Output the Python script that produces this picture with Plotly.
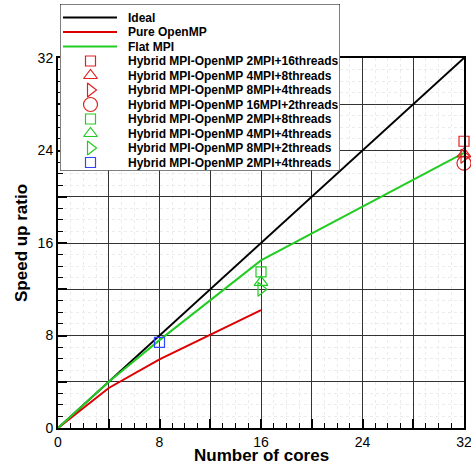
import plotly.graph_objects as go

# ---- data ----
ideal_x = [0, 32]
ideal_y = [0, 32]
omp_x = [0, 4, 8, 16]
omp_y = [0, 3.46, 5.94, 10.2]
mpi_x = [0, 4, 8, 16, 32]
mpi_y = [0, 4.0, 7.6, 14.5, 23.8]

hyb_names = [
    "Hybrid MPI-OpenMP 2MPI+16threads",
    "Hybrid MPI-OpenMP 4MPI+8threads",
    "Hybrid MPI-OpenMP 8MPI+4threads",
    "Hybrid MPI-OpenMP 16MPI+2threads",
    "Hybrid MPI-OpenMP 2MPI+8threads",
    "Hybrid MPI-OpenMP 4MPI+4threads",
    "Hybrid MPI-OpenMP 8MPI+2threads",
    "Hybrid MPI-OpenMP 2MPI+4threads",
]
hyb_x = [32, 32, 32, 32, 16, 16, 16, 8]
hyb_y = [24.8, 23.7, 23.5, 22.9, 13.5, 12.6, 12.0, 7.4]
hyb_symbols = ["square-open", "triangle-up-open", "triangle-right-open", "circle-open",
               "square-open", "triangle-up-open", "triangle-right-open", "square-open"]
hyb_sizes = [10, 12, 12, 14, 10, 12, 12, 10]
hyb_colors = ["#e02020", "#e02020", "#e02020", "#e02020",
              "#22cc22", "#22cc22", "#22cc22", "#3344ff"]

line_names = ["Ideal", "Pure OpenMP", "Flat MPI"]
line_colors = ["#000000", "#dd0000", "#22cc22"]

x_ticks = [0, 4, 8, 12, 16, 20, 24, 28, 32]
x_ticktext = ["0", "", "8", "", "16", "", "24", "", "32"]
y_ticks = [0, 4, 8, 12, 16, 20, 24, 28, 32]
y_ticktext = ["0", "", "8", "", "16", "", "24", "", "32"]

x_title = "Number of cores"
y_title = "Speed up ratio"

FONT = "Liberation Sans, Arial, sans-serif"

fig = go.Figure()

lines = [(ideal_x, ideal_y), (omp_x, omp_y), (mpi_x, mpi_y)]
for (xs, ys), nm, c in zip(lines, line_names, line_colors):
    fig.add_trace(go.Scatter(x=xs, y=ys, mode="lines", name=nm,
                             line=dict(color=c, width=2), showlegend=False))

for i in range(len(hyb_names)):
    fig.add_trace(go.Scatter(x=[hyb_x[i]], y=[hyb_y[i]], mode="markers", name=hyb_names[i],
                             marker=dict(symbol=hyb_symbols[i], size=hyb_sizes[i],
                                         color=hyb_colors[i], line=dict(width=1.2, color=hyb_colors[i])),
                             cliponaxis=False, showlegend=False))

# ---- custom legend on an overlay axis (pixel-like units) ----
all_names = line_names + hyb_names
row0, step = 13.5, 14.5
for i, nm in enumerate(all_names):
    yy = row0 + i * step
    if i < 3:
        fig.add_trace(go.Scatter(x=[3, 57], y=[yy, yy], mode="lines", xaxis="x2", yaxis="y2",
                                 line=dict(color=line_colors[i], width=2), showlegend=False,
                                 hoverinfo="skip"))
    else:
        j = i - 3
        fig.add_trace(go.Scatter(x=[30.5], y=[yy], mode="markers", xaxis="x2", yaxis="y2",
                                 marker=dict(symbol=hyb_symbols[j], size=hyb_sizes[j],
                                             color=hyb_colors[j],
                                             line=dict(width=1.2, color=hyb_colors[j])),
                                 showlegend=False, hoverinfo="skip"))
    fig.add_annotation(x=66, y=yy, xref="x2", yref="y2", text="<b>%s</b>" % nm,
                       showarrow=False, xanchor="left", yanchor="middle",
                       font=dict(family=FONT, size=12, color="black"))

fig.add_shape(type="rect", xref="x2", yref="y2", x0=0, x1=280, y0=0, y1=166.5,
              fillcolor="white", line=dict(color="black", width=1), layer="below")

W, H = 471, 468
ml, mr, mt, mb = 58, 7, 4, 40
plot_w = W - ml - mr
plot_h = H - mt - mb
bottom_px = H - mb  # 428

def px_x(p):
    return (p - ml) / plot_w

def px_y(p):
    return (bottom_px - p) / plot_h

fig.add_annotation(x=px_x(261), y=px_y(455), xref="paper", yref="paper",
                   text="<b>%s</b>" % x_title, showarrow=False,
                   xanchor="center", yanchor="middle", font=dict(family=FONT, size=17))
fig.add_annotation(x=px_x(22), y=px_y(243), xref="paper", yref="paper",
                   text="<b>%s</b>" % y_title, showarrow=False, textangle=-90,
                   xanchor="center", yanchor="middle", font=dict(family=FONT, size=17))

axis_common = dict(
    range=[0, 32], tickmode="array",
    ticks="inside", ticklen=9, tickwidth=2, tickcolor="black",
    showgrid=True, gridcolor="#333", gridwidth=1,
    showline=True, linecolor="black", linewidth=2, mirror=True,
    zeroline=False, automargin=False, ticklabeloverflow="allow",
    minor=dict(tickmode="linear", tick0=0, dtick=1, ticks="inside", ticklen=5,
               tickwidth=1, tickcolor="black", showgrid=True,
               gridcolor="#ececec", griddash="dot", gridwidth=1),
    tickfont=dict(family=FONT, size=14),
)

fig.update_layout(
    width=W, height=H,
    margin=dict(l=ml, r=mr, t=mt, b=mb),
    paper_bgcolor="white", plot_bgcolor="white",
    showlegend=False,
    font=dict(family=FONT, size=14, color="black"),
    xaxis=dict(domain=[0, 1], anchor="y", tickvals=x_ticks, ticktext=x_ticktext, **axis_common),
    yaxis=dict(domain=[0, px_y(58)], anchor="x", tickvals=y_ticks, ticktext=y_ticktext,
               **axis_common),
    xaxis2=dict(domain=[px_x(60), px_x(340)], range=[0, 280], anchor="y2",
                visible=False, fixedrange=True),
    yaxis2=dict(domain=[px_y(170.5), 1], range=[166.5, 0], anchor="x2",
                visible=False, fixedrange=True),
)

fig.write_html("out.html", config={"displayModeBar": False},
               post_script="document.body.style.margin='0';document.body.style.overflow='hidden';")
